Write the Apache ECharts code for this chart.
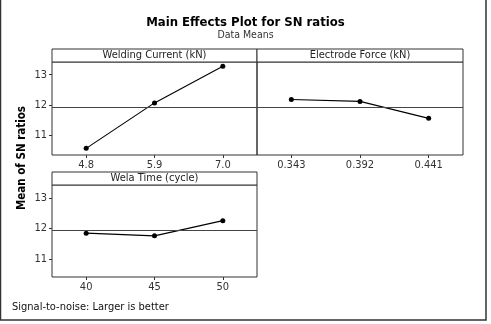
<!DOCTYPE html>
<html>
<head>
<meta charset="utf-8">
<script src="https://cdn.jsdelivr.net/npm/echarts@6/dist/echarts.min.js"></script>
<style>html,body{margin:0;padding:0;background:#fff;}#c{width:491px;height:324px;}</style>
</head>
<body>
<div id="c"></div>
<script>
// ---- data ----
const currentCats = ['4.8', '5.9', '7.0'];
const currentVals = [10.57, 12.07, 13.28];
const forceCats = ['0.343', '0.392', '0.441'];
const forceVals = [12.18, 12.12, 11.56];
const timeCats = ['40', '45', '50'];
const timeVals = [11.85, 11.76, 12.26];
const grandMean = 11.94;
const yTicks = [11, 12, 13];
const panelTitles = ['Welding Current (kN)', 'Electrode Force (kN)', 'Wela Time (cycle)'];

const FONT = "'DejaVu Sans Condensed', 'DejaVu Sans', sans-serif";
const LINE = '#333';

const chart = echarts.init(document.getElementById('c'), null, {renderer: 'canvas'});

const grids = [
  {left: 52, top: 62, width: 205, height: 93},
  {left: 257, top: 62, width: 206, height: 93},
  {left: 52, top: 185, width: 205, height: 92}
];
const yRanges = [[10.35, 13.42], [10.35, 13.42], [10.41, 13.43]];
const cats = [currentCats, forceCats, timeCats];
const vals = [currentVals, forceVals, timeVals];

const xAxes = cats.map((c, i) => ({
  type: 'category', gridIndex: i, data: c, boundaryGap: true,
  axisLine: {show: false},
  axisTick: {show: true, alignWithLabel: true, length: 3, lineStyle: {color: LINE}},
  axisLabel: {color: '#333', fontFamily: FONT, fontSize: 11, margin: 5},
  splitLine: {show: false}
}));
const yAxes = yRanges.map((r, i) => ({
  type: 'value', gridIndex: i, min: r[0], max: r[1],
  axisLine: {show: false},
  axisTick: {show: i !== 1, length: 3, customValues: yTicks, lineStyle: {color: LINE}},
  axisLabel: {show: i !== 1, customValues: yTicks, color: '#333', fontFamily: FONT, fontSize: 11, margin: 5},
  splitLine: {show: false}
}));
const series = vals.map((v, i) => ({
  type: 'line', xAxisIndex: i, yAxisIndex: i, data: v,
  symbol: 'circle', symbolSize: 5,
  lineStyle: {color: '#000', width: 1.1},
  itemStyle: {color: '#000'},
  animation: false,
  markLine: {
    silent: true, symbol: 'none', label: {show: false},
    lineStyle: {color: '#444', width: 1, type: 'solid'},
    data: [{yAxis: grandMean}]
  }
}));

const graphic = [
  {type: 'rect', shape: {x: 0.5, y: -2, width: 485.5, height: 322}, style: {fill: 'none', stroke: '#333', lineWidth: 1.5}},
  {type: 'text', x: 22, y: 158, rotation: Math.PI / 2,
   style: {text: 'Mean of SN ratios', font: 'bold 11.5px ' + FONT, fill: '#000', align: 'center', verticalAlign: 'middle'}},
  {type: 'text', x: 12, y: 307, style: {text: 'Signal-to-noise: Larger is better', font: '11px ' + FONT, fill: '#111', verticalAlign: 'middle'}}
];
grids.forEach((g, i) => {
  graphic.push({type: 'rect', shape: {x: g.left, y: g.top - 13, width: g.width, height: 13},
    style: {fill: '#fff', stroke: LINE, lineWidth: 1}});
  graphic.push({type: 'text', x: g.left + g.width / 2, y: g.top - 6.5,
    style: {text: panelTitles[i], font: '11px ' + FONT, fill: '#222', align: 'center', verticalAlign: 'middle'}});
});

chart.setOption({
  animation: false,
  backgroundColor: '#fff',
  title: {
    text: 'Main Effects Plot for SN ratios', subtext: 'Data Means',
    left: 'center', top: 11, itemGap: 1,
    textStyle: {fontFamily: FONT, fontSize: 13, fontWeight: 'bold', color: '#000'},
    subtextStyle: {fontFamily: FONT, fontSize: 10.5, color: '#333'}
  },
  grid: grids.map(g => Object.assign({show: true, borderColor: LINE, borderWidth: 1, backgroundColor: 'transparent'}, g)),
  xAxis: xAxes,
  yAxis: yAxes,
  series: series,
  graphic: graphic
});
</script>
</body>
</html>
